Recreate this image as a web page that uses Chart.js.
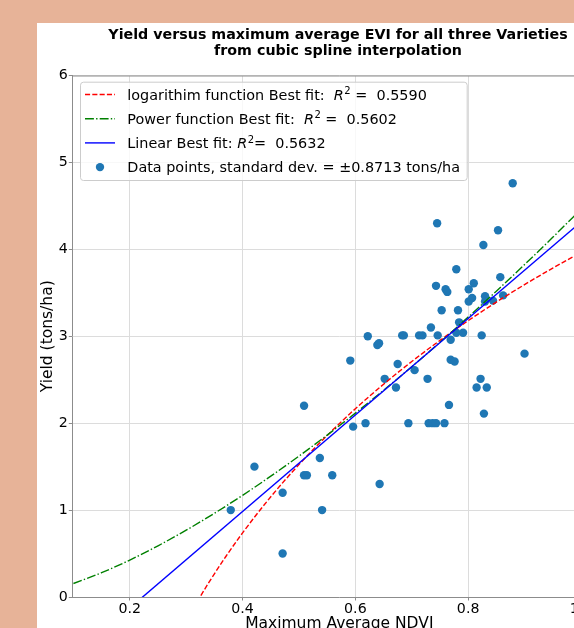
<!DOCTYPE html>
<html>
<head>
<meta charset="utf-8">
<script src="https://cdn.jsdelivr.net/npm/chart.js@4.4.1/dist/chart.umd.min.js"></script>
<style>
  html, body { margin: 0; padding: 0; overflow: hidden; }
  body { width: 574px; height: 628px; background: #e7b398; position: relative; }
  #panel { position: absolute; left: 37px; top: 23px; width: 700px; height: 700px; background: #fff; }
  #yieldChart { position: absolute; left: 37px; top: 23px; }
</style>
</head>
<body>
<div id="panel"></div>
<canvas id="yieldChart" width="602" height="620"></canvas>
<script>
// scatter data
const ndvi = [0.379, 0.421, 0.471, 0.471, 0.509, 0.509, 0.514, 0.537, 0.541, 0.559,
  0.591, 0.596, 0.618, 0.622, 0.639, 0.642, 0.643, 0.652, 0.672, 0.675,
  0.683, 0.686, 0.694, 0.705, 0.713, 0.719, 0.728, 0.730, 0.734, 0.737,
  0.743, 0.743, 0.745, 0.746, 0.753, 0.758, 0.760, 0.763, 0.766, 0.769,
  0.769, 0.776, 0.779, 0.779, 0.782, 0.784, 0.791, 0.801, 0.801, 0.807,
  0.810, 0.815, 0.822, 0.824, 0.827, 0.828, 0.830, 0.830, 0.833, 0.844,
  0.853, 0.857, 0.862, 0.879, 0.900];
const yieldVals = [1.00, 1.50, 1.20, 0.50, 2.20, 1.40, 1.40, 1.60, 1.00, 1.40,
  2.72, 1.96, 2.00, 3.00, 2.90, 2.92, 1.30, 2.51, 2.41, 2.68,
  3.01, 3.01, 2.00, 2.61, 3.01, 3.01, 2.51, 2.00, 3.10, 2.00,
  2.00, 3.58, 4.30, 3.01, 3.30, 2.00, 3.54, 3.51, 2.21, 2.96,
  2.73, 2.71, 3.77, 3.04, 3.30, 3.16, 3.04, 3.54, 3.40, 3.44,
  3.61, 2.41, 2.51, 3.01, 4.05, 2.11, 3.46, 3.40, 2.41, 3.41,
  4.22, 3.68, 3.47, 4.76, 2.80];

// fitted curves
const logFitX = [0.30, 0.32, 0.34, 0.37, 0.40, 0.45, 0.50, 0.55, 0.60, 0.65, 0.70, 0.75, 0.80, 0.85, 0.90, 0.95, 1.00];
const logFitY = [-0.275, -0.048, 0.165, 0.463, 0.738, 1.153, 1.524, 1.859, 2.166, 2.448, 2.709, 2.952, 3.179, 3.393, 3.594, 3.784, 3.965];
const powFitX = [0.10, 0.15, 0.20, 0.25, 0.30, 0.35, 0.40, 0.45, 0.50, 0.55, 0.60, 0.65, 0.70, 0.75, 0.80, 0.85, 0.90, 0.95, 1.00];
const powFitY = [0.155, 0.280, 0.425, 0.589, 0.769, 0.963, 1.170, 1.390, 1.621, 1.863, 2.116, 2.378, 2.650, 2.930, 3.220, 3.518, 3.824, 4.138, 4.460];
const linFitX = [0.10, 1.00];
const linFitY = [-0.681, 4.314];

const xTicks = [0.2, 0.4, 0.6, 0.8, 1.0];
const yTicks = [0, 1, 2, 3, 4, 5, 6];

const titleLines = ["Yield versus maximum average EVI for all three Varieties", "from cubic spline interpolation"];
const xTitle = "Maximum Average NDVI";
const yTitle = "Yield (tons/ha)";
// [text before R², text after R²]
const legendLabels = [
  ["logarithim function Best fit:  ", " =  0.5590"],
  ["Power function Best fit:  ", " =  0.5602"],
  ["Linear Best fit: ", "=  0.5632"],
  ["Data points, standard dev. = \u00b10.8713 tons/ha"]
];

const FONT = "'DejaVu Sans', sans-serif";
const pairs = (xs, ys) => xs.map((x, i) => ({ x: x, y: ys[i] }));

// title, top/right frame and legend drawn by hand (R² needs italic + superscript)
const figureExtras = {
  id: "figureExtras",
  beforeDatasetsDraw(chart) {
    const { ctx, chartArea } = chart;
    ctx.save();
    ctx.strokeStyle = "#8c8c8c";
    ctx.lineWidth = 1;
    ctx.beginPath();
    ctx.moveTo(chartArea.left, chartArea.top + 0.5);
    ctx.lineTo(chartArea.right, chartArea.top + 0.5);
    ctx.moveTo(chartArea.right - 0.5, chartArea.top);
    ctx.lineTo(chartArea.right - 0.5, chartArea.bottom);
    ctx.stroke();
    ctx.restore();
  },
  afterDraw(chart) {
    const ctx = chart.ctx;
    ctx.save();
    ctx.fillStyle = "#000";
    ctx.textAlign = "center";
    ctx.textBaseline = "alphabetic";
    ctx.font = "bold 14.25px " + FONT;
    titleLines.forEach((t, i) => ctx.fillText(t, 301, 16.3 + i * 16));
    ctx.restore();

    const box = { x: 43, y: 58.7, w: 386.7, h: 98.3 };
    ctx.save();
    ctx.fillStyle = "rgba(255,255,255,0.8)";
    ctx.strokeStyle = "#cccccc";
    ctx.lineWidth = 1;
    ctx.beginPath();
    ctx.roundRect(box.x + 0.5, box.y + 0.5, box.w, box.h, 3);
    ctx.fill();
    ctx.stroke();

    chart.data.datasets.forEach((ds, row) => {
      const cy = box.y + 12.8 + row * 24.2;
      ctx.save();
      if (ds.type === "line") {
        ctx.strokeStyle = ds.borderColor;
        ctx.lineWidth = ds.borderWidth;
        ctx.setLineDash(ds.borderDash || []);
        ctx.beginPath();
        ctx.moveTo(48, cy);
        ctx.lineTo(78, cy);
        ctx.stroke();
      } else {
        ctx.fillStyle = ds.backgroundColor;
        ctx.beginPath();
        ctx.arc(63, cy, ds.pointRadius, 0, Math.PI * 2);
        ctx.fill();
      }
      ctx.restore();

      const parts = legendLabels[row];
      let x = 90.3;
      const base = cy + 5.2;
      ctx.fillStyle = "#000";
      ctx.textAlign = "left";
      ctx.textBaseline = "alphabetic";
      ctx.font = "14.4px " + FONT;
      ctx.fillText(parts[0], x, base);
      x += ctx.measureText(parts[0]).width;
      if (parts.length > 1) {
        ctx.font = "oblique 14.4px " + FONT;
        ctx.fillText("R", x, base);
        x += ctx.measureText("R").width + 0.5;
        ctx.font = "10px " + FONT;
        ctx.fillText("2", x, base - 5.6);
        x += ctx.measureText("2").width;
        ctx.font = "14.4px " + FONT;
        ctx.fillText(parts[1], x, base);
      }
    });
    ctx.restore();
  }
};

const ctx = document.getElementById("yieldChart").getContext("2d");
const yieldChart = new Chart(ctx, {
  type: "scatter",
  plugins: [figureExtras],
  data: {
    datasets: [
      {
        label: "logarithim",
        type: "line",
        data: pairs(logFitX, logFitY),
        borderColor: "#ff0000",
        borderWidth: 1.4,
        borderDash: [5.1, 2.2],
        pointRadius: 0,
        fill: false,
        cubicInterpolationMode: "monotone",
        order: 3,
      },
      {
        label: "power",
        type: "line",
        data: pairs(powFitX, powFitY),
        borderColor: "#008000",
        borderWidth: 1.4,
        borderDash: [8.9, 2.2, 1.4, 2.2],
        pointRadius: 0,
        fill: false,
        cubicInterpolationMode: "monotone",
        order: 2,
      },
      {
        label: "linear",
        type: "line",
        data: pairs(linFitX, linFitY),
        borderColor: "#0000ff",
        borderWidth: 1.4,
        pointRadius: 0,
        fill: false,
        order: 1,
      },
      {
        label: "data",
        data: pairs(ndvi, yieldVals),
        backgroundColor: "#1f77b4",
        borderWidth: 0,
        pointRadius: 4.2,
        order: 4,
      },
    ],
  },
  options: {
    responsive: false,
    animation: false,
    layout: { padding: { top: 52.5, left: 0, right: 32.7, bottom: 10 } },
    scales: {
      x: {
        type: "linear",
        min: 0.098,
        max: 1.045,
        afterBuildTicks: (axis) => { axis.ticks = xTicks.map((v) => ({ value: v })); },
        afterFit: (axis) => { axis.height = 36; },
        grid: { color: "#dcdcdc", lineWidth: 1, tickLength: 3.5, tickColor: "#8c8c8c" },
        border: { display: true, color: "#8c8c8c", width: 1 },
        ticks: {
          padding: 0,
          color: "#000",
          font: { family: FONT, size: 14.2 },
          callback: (v) => v.toFixed(1),
        },
        title: { display: true, text: xTitle, color: "#000", font: { family: FONT, size: 15.5 }, padding: 0 },
      },
      y: {
        min: 0,
        max: 6,
        afterBuildTicks: (axis) => { axis.ticks = yTicks.map((v) => ({ value: v })); },
        afterFit: (axis) => { axis.width = 35.3; },
        grid: { color: "#dcdcdc", lineWidth: 1, tickLength: 3.5, tickColor: "#8c8c8c" },
        border: { display: true, color: "#8c8c8c", width: 1 },
        ticks: {
          padding: 1,
          color: "#000",
          font: { family: FONT, size: 14.2 },
          callback: (v) => String(v),
        },
        title: { display: true, text: yTitle, color: "#000", font: { family: FONT, size: 15.5 }, padding: { top: 1.8, bottom: 0 } },
      },
    },
    plugins: {
      legend: { display: false },
      tooltip: { enabled: false },
      title: { display: false },
    },
  },
});
</script>
</body>
</html>
